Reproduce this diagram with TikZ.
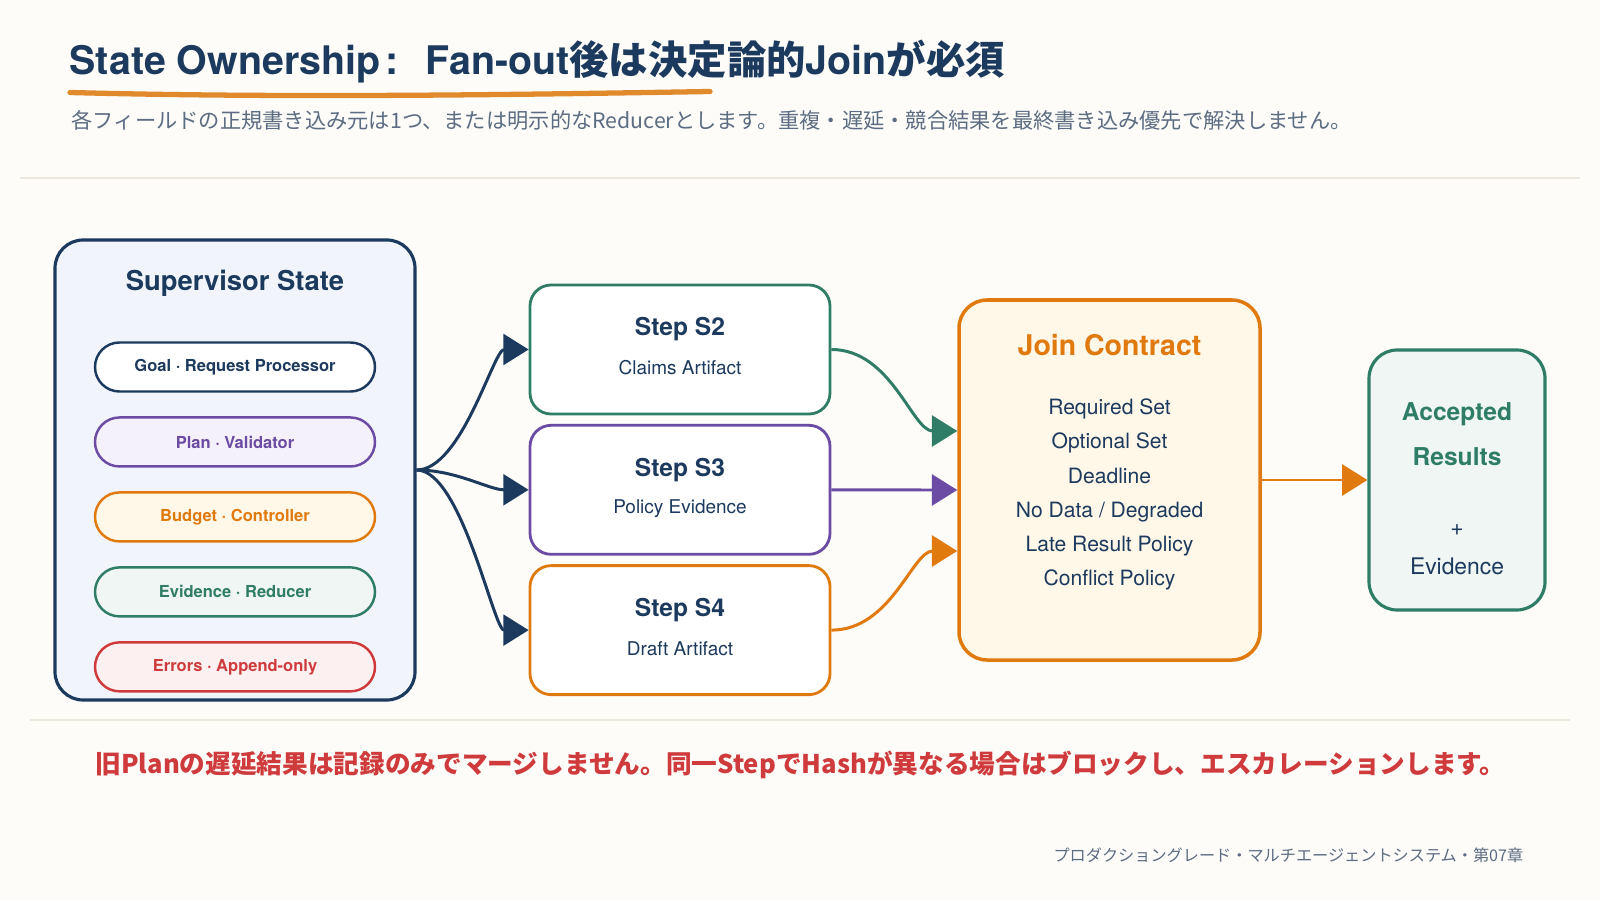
\documentclass[tikz,border=0pt]{standalone}
\usepackage{fontspec}
\setmainfont{TeX Gyre Heros}
\newfontfamily\jpfont{Noto Sans CJK JP}
\usetikzlibrary{arrows.meta, positioning}
\definecolor{paper}{HTML}{FDFCF8}
\definecolor{navy}{HTML}{1C3A5E}
\definecolor{slategrey}{HTML}{5C6C82}
\definecolor{brushorange}{HTML}{E08A2C}
\definecolor{joinorange}{HTML}{E07A0E}
\definecolor{evgreen}{HTML}{2F7D66}
\definecolor{planpurple}{HTML}{6B4BA3}
\definecolor{errred}{HTML}{CF3B3D}
\definecolor{rulebeige}{HTML}{ECE7DC}
\definecolor{supfill}{HTML}{F1F5FB}
\definecolor{planfill}{HTML}{F5F1FA}
\definecolor{budgetfill}{HTML}{FFF7E8}
\definecolor{greenfill}{HTML}{EFF6F3}
\definecolor{redfill}{HTML}{FDF0F0}
\definecolor{joinfill}{HTML}{FFF7E8}

\begin{document}
\begin{tikzpicture}[
    stepbox/.style={draw, line width=0.8pt, rounded corners=6pt, fill=white, minimum width=3.0cm, minimum height=1.29cm, inner sep=0pt},
    pill/.style={draw, line width=0.7pt, rounded corners=0.245cm, minimum width=2.8cm, minimum height=0.49cm, inner sep=0pt, font=\fontsize{4.7}{5.5}\selectfont\bfseries},
    steptitle/.style={font=\fontsize{7}{8}\selectfont\bfseries, text=navy},
    stepsub/.style={font=\fontsize{5.4}{6.5}\selectfont, text=navy},
    flow/.style={line width=0.85pt, -{Triangle[length=7.2pt, width=8.8pt]}}
  ]
  \useasboundingbox (0,0) rectangle (16,9);
  \fill[paper] (0,0) rectangle (16,9);

  % Titulo
  \node[anchor=west, inner sep=0pt, font=\fontsize{11.2}{13}\selectfont\bfseries, text=navy] (title) at (0.69,8.38) {State Ownership\hspace{0.12em}:\hspace{0.7em}Fan-out{\jpfont 後は決定論的}Join{\jpfont が必須}};
  \draw[line width=1.5pt, brushorange, line cap=round] (0.70,8.075) .. controls (2.8,8.02) and (5.0,8.05) .. (7.10,8.085);
  \node[anchor=west, inner sep=0pt, font=\jpfont\fontsize{6.05}{7}\selectfont, text=slategrey] (subtitle) at (0.71,7.80) {各フィールドの正規書き込み元は1つ、または明示的なReducerとします。重複・遅延・競合結果を最終書き込み優先で解決しません。};
  \draw[line width=0.6pt, rulebeige] (0.20,7.22) -- (15.80,7.22);

  % Supervisor
  \node[draw=navy, fill=supfill, line width=0.9pt, rounded corners=8pt, minimum width=3.6cm, minimum height=4.6cm] (sup) at (2.35,4.30) {};
  \node[font=\fontsize{7.8}{9}\selectfont\bfseries, text=navy] (supT) at (2.35,6.17) {Supervisor State};
  \node[pill, draw=navy, fill=white, text=navy] (goal) at (2.35,5.33) {Goal · Request Processor};
  \node[pill, draw=planpurple, fill=planfill, text=planpurple, below=0.235cm of goal] (plan) {Plan · Validator};
  \node[pill, draw=joinorange, fill=budgetfill, text=joinorange, below=0.235cm of plan] (budget) {Budget · Controller};
  \node[pill, draw=evgreen, fill=greenfill, text=evgreen, below=0.235cm of budget] (evid) {Evidence · Reducer};
  \node[pill, draw=errred, fill=redfill, text=errred, below=0.235cm of evid] (errs) {Errors · Append-only};

  % Steps
  \node[stepbox, draw=evgreen] (s2) at (6.80,5.505) {};
  \node[stepbox, draw=planpurple, below=0.085cm of s2] (s3) {};
  \node[stepbox, draw=joinorange, below=0.085cm of s3] (s4) {};
  \node[steptitle] (s2t) at ([yshift=0.20cm]s2.center) {Step S2};
  \node[stepsub] (s2d) at ([yshift=-0.185cm]s2.center) {Claims Artifact};
  \node[steptitle] (s3t) at ([yshift=0.20cm]s3.center) {Step S3};
  \node[stepsub] (s3d) at ([yshift=-0.185cm]s3.center) {Policy Evidence};
  \node[steptitle] (s4t) at ([yshift=0.20cm]s4.center) {Step S4};
  \node[stepsub] (s4d) at ([yshift=-0.185cm]s4.center) {Draft Artifact};

  % Join
  \node[draw=joinorange, fill=joinfill, line width=1pt, rounded corners=8pt, minimum width=3.01cm, minimum height=3.6cm] (join) at (11.095,4.20) {};
  \node[font=\fontsize{8.1}{9}\selectfont\bfseries, text=joinorange] (joinT) at (11.095,5.55) {Join Contract};
  \node[align=center, font=\fontsize{6}{9.7}\selectfont, text=navy] (joinL) at (11.095,4.055) {Required Set\\Optional Set\\Deadline\\No Data / Degraded\\Late Result Policy\\Conflict Policy};

  % Resultado
  \node[draw=evgreen, fill=greenfill, line width=0.9pt, rounded corners=8pt, minimum width=1.76cm, minimum height=2.6cm] (acc) at (14.57,4.20) {};
  \node[align=center, font=\fontsize{7}{12.8}\selectfont\bfseries, text=evgreen] (accT) at (14.57,4.655) {Accepted\\Results};
  \node[align=center, font=\fontsize{6.5}{11.1}\selectfont, text=navy] (accE) at (14.57,3.50) {+\\Evidence};

  % Fan-out
  \draw[flow, navy] (sup.east) .. controls +(0.45,0) and +(-0.35,0) .. (s2.west);
  \draw[flow, navy] (sup.east) .. controls +(0.4,0) and +(-0.4,0) .. (s3.west);
  \draw[flow, navy] (sup.east) .. controls +(0.45,0) and +(-0.35,0) .. (s4.west);
  % Join
  \draw[flow, evgreen] (s2.east) .. controls +(0.6,0) and +(-0.45,0) .. ([yshift=0.49cm]join.west);
  \draw[flow, planpurple] (s3.east) .. controls +(0.5,0) and +(-0.5,0) .. ([yshift=-0.10cm]join.west);
  \draw[flow, joinorange] (s4.east) .. controls +(0.6,0) and +(-0.45,0) .. ([yshift=-0.71cm]join.west);
  \draw[flow, joinorange] (join.east) -- (acc.west);

  % Nota
  \draw[line width=0.6pt, rulebeige] (0.30,1.80) -- (15.70,1.80);
  \node[anchor=west, inner sep=0pt, font=\jpfont\fontsize{7.3}{8.5}\selectfont\bfseries, text=errred] (note) at (0.95,1.35) {旧Planの遅延結果は記録のみでマージしません。同一StepでHashが異なる場合はブロックし、エスカレーションします。};
  \node[anchor=east, inner sep=0pt, font=\jpfont\fontsize{4.6}{5.5}\selectfont, text=slategrey] (footer) at (15.24,0.45) {プロダクショングレード・マルチエージェントシステム・第07章};
\end{tikzpicture}
\end{document}
